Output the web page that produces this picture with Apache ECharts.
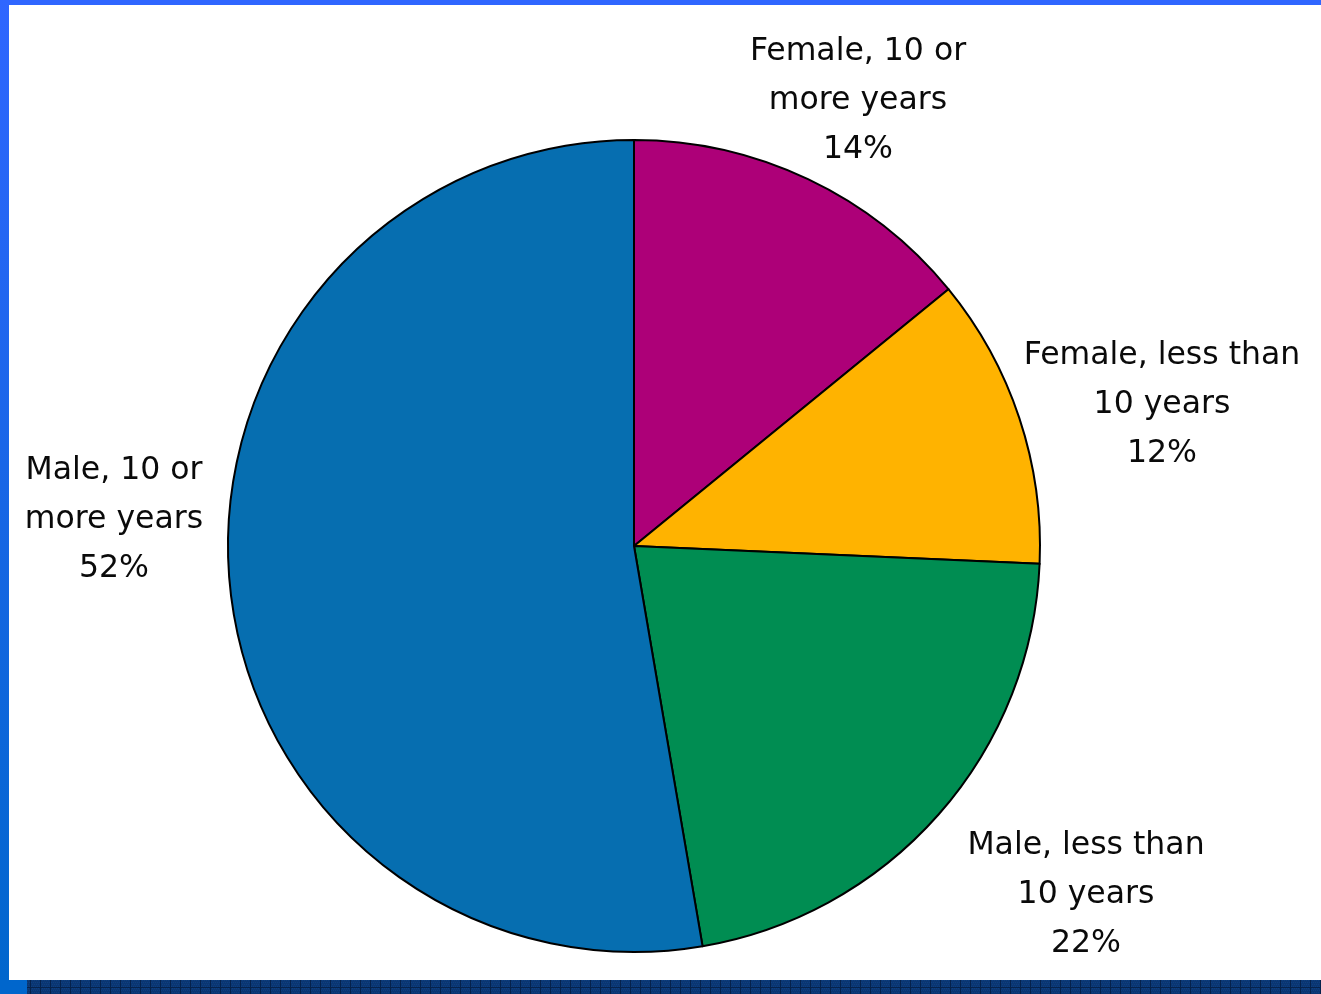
<!DOCTYPE html>
<html>
<head>
<meta charset="utf-8">
<script src="https://cdn.jsdelivr.net/npm/echarts@6/dist/echarts.min.js"></script>
<style>
html,body{margin:0;padding:0;background:#fff;}
#chart{width:1321px;height:994px;}
</style>
</head>
<body>
<div id="chart"></div>
<script>
// ---- data ----
var categories = ['Female, 10 or\nmore years', 'Female, less than\n10 years', 'Male, less than\n10 years', 'Male, 10 or\nmore years'];
var shares = [14.1, 11.6, 21.6, 52.7];          // slice sizes
var shownPercent = ['14%', '12%', '22%', '52%']; // percentages printed on the chart
var sliceColors = ['#AD0078', '#FFB300', '#008D52', '#066EB0'];

// ---- layout (label block centres) ----
var labelPos = [[858, 101], [1162, 405], [1086, 895], [114, 520]];

var W = 1321, H = 994;

// bottom strip pattern
var tile = document.createElement('canvas');
tile.width = 10; tile.height = 14;
var tc = tile.getContext('2d');
tc.fillStyle = '#0B3672'; tc.fillRect(0, 0, 10, 14);
for (var yy = 0; yy < 14; yy += 2) for (var xx = (yy / 2) % 2; xx < 10; xx += 2) { tc.fillStyle = '#0D3F82'; tc.fillRect(xx, yy, 1, 1); }
tc.fillStyle = '#06224C'; tc.fillRect(0, 0, 1, 14); tc.fillRect(0, 7, 10, 1);

var chart = echarts.init(document.getElementById('chart'), null, {renderer: 'canvas'});
var data = categories.map(function (c, i) {
  return {name: c, value: shares[i], itemStyle: {color: sliceColors[i]}};
});

chart.setOption({
  backgroundColor: '#ffffff',
  animation: false,
  graphic: [
    {type: 'rect', shape: {x: 0, y: 0, width: W, height: 5}, style: {fill: '#2F66FF'}, z: 10},
    {type: 'rect', shape: {x: 0, y: 0, width: 9, height: H},
      style: {fill: new echarts.graphic.LinearGradient(0, 0, 0, 1, [{offset: 0, color: '#2F66FF'}, {offset: 1, color: '#0066CC'}])}, z: 10},
    {type: 'rect', shape: {x: 0, y: 980, width: 27, height: 14}, style: {fill: '#0066CC'}, z: 10},
    {type: 'rect', shape: {x: 27, y: 980, width: W - 27, height: 14}, style: {fill: {image: tile, repeat: 'repeat'}}, z: 10}
  ],
  series: [{
    type: 'pie',
    center: [634, 546],
    radius: 406,
    startAngle: 90,
    clockwise: true,
    data: data,
    itemStyle: {borderColor: '#000', borderWidth: 2},
    label: {
      show: true,
      position: 'outside',
      formatter: function (p) { return p.name + '\n' + shownPercent[p.dataIndex]; },
      fontFamily: 'DejaVu Sans',
      fontSize: 31.5,
      lineHeight: 49,
      color: '#0a0a0a',
      align: 'center',
      width: 340,
      overflow: 'none'
    },
    labelLine: {show: false},
    labelLayout: function (p) {
      var pos = labelPos[p.dataIndex];
      return {x: pos[0], y: pos[1], align: 'center', verticalAlign: 'middle', hideOverlap: false, moveOverlap: false};
    },
    emphasis: {disabled: true}
  }]
});
</script>
</body>
</html>
